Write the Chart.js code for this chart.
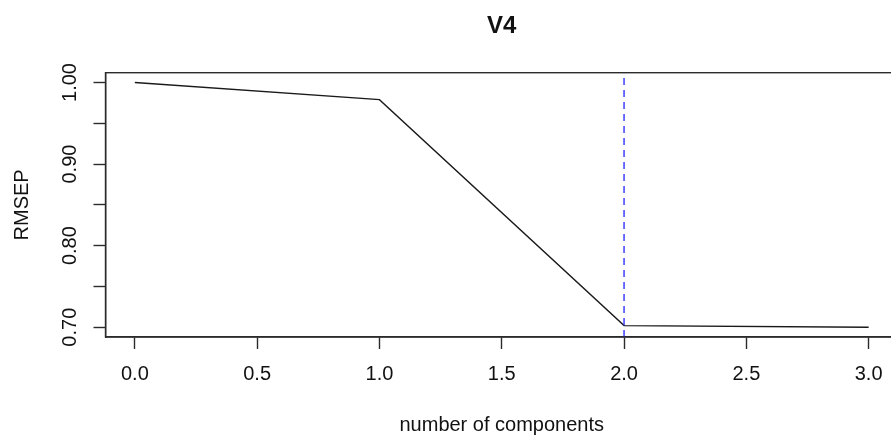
<!DOCTYPE html>
<html>
<head>
<meta charset="utf-8">
<title>V4</title>
<script src="https://cdn.jsdelivr.net/npm/chart.js@4.4.1/dist/chart.umd.min.js"></script>
<style>
  html, body { margin: 0; padding: 0; background: #fff; overflow: hidden; }
</style>
</head>
<body>
<canvas id="rmsepChart" width="900" height="439"></canvas>
<script>
// === Data ===
const components = [0, 1, 2, 3];
const rmsep = [1.000, 0.979, 0.702, 0.700];
const chosenComps = 2;

const xTicks = [0.0, 0.5, 1.0, 1.5, 2.0, 2.5, 3.0];
const xLabels = ["0.0", "0.5", "1.0", "1.5", "2.0", "2.5", "3.0"];
const yTicks = [0.70, 0.75, 0.80, 0.85, 0.90, 0.95, 1.00];
const yLabels = ["0.70", "", "0.80", "", "0.90", "", "1.00"];

const mainTitle = "V4";
const xTitle = "number of components";
const yTitle = "RMSEP";

const FONT = '"Liberation Sans", Arial, Helvetica, sans-serif';
const AXIS_COLOR = "#2b2b2b";

// axis limits padded by 4% like base R plots
function padRange(vals) {
  const lo = Math.min(...vals), hi = Math.max(...vals);
  const pad = (hi - lo) * 0.04;
  return [lo - pad, hi + pad];
}
const [xMin, xMax] = padRange(components);
const [yMin, yMax] = padRange(rmsep);

// box around the plot region + titles
const frameAndTitles = {
  id: "frameAndTitles",
  afterDraw(chart) {
    const { ctx, chartArea: a } = chart;
    ctx.save();
    ctx.strokeStyle = AXIS_COLOR;
    ctx.lineWidth = 1.4;
    ctx.strokeRect(a.left, a.top, a.right - a.left, a.bottom - a.top);

    const cx = (a.left + a.right) / 2;
    ctx.fillStyle = "#111";
    ctx.textAlign = "center";
    ctx.textBaseline = "alphabetic";
    ctx.font = "bold 24px " + FONT;
    ctx.fillText(mainTitle, cx, 33);
    ctx.font = "20px " + FONT;
    ctx.fillText(xTitle, cx, 431);
    ctx.translate(28, (a.top + a.bottom) / 2);
    ctx.rotate(-Math.PI / 2);
    ctx.fillText(yTitle, 0, 0);
    ctx.restore();
  }
};

const ctx = document.getElementById("rmsepChart").getContext("2d");
new Chart(ctx, {
  type: "line",
  data: {
    datasets: [
      {
        // selected number of components
        data: [{ x: chosenComps, y: yMin }, { x: chosenComps, y: yMax }],
        borderColor: "#2f2fff",
        borderWidth: 1.4,
        borderDash: [7, 5],
        pointRadius: 0
      },
      {
        data: components.map((c, i) => ({ x: c, y: rmsep[i] })),
        borderColor: "#1a1a1a",
        borderWidth: 1.4,
        tension: 0,
        pointRadius: 0
      }
    ]
  },
  options: {
    responsive: false,
    animation: false,
    layout: { padding: { left: 0, top: 72.7, right: 2, bottom: 0 } },
    plugins: {
      legend: { display: false },
      tooltip: { enabled: false },
      title: { display: false }
    },
    scales: {
      x: {
        type: "linear",
        min: xMin,
        max: xMax,
        afterBuildTicks: s => { s.ticks = xTicks.map(v => ({ value: v })); },
        afterFit: s => { s.height = 102; },
        ticks: {
          callback: (v, i) => xLabels[i],
          font: { family: FONT, size: 20 },
          color: "#111",
          padding: 13,
          maxRotation: 0,
          minRotation: 0,
          autoSkip: false
        },
        grid: {
          drawOnChartArea: false,
          tickLength: 12,
          color: AXIS_COLOR,
          tickWidth: 1.4
        },
        border: { display: true, color: AXIS_COLOR, width: 1.4 }
      },
      y: {
        type: "linear",
        min: yMin,
        max: yMax,
        afterBuildTicks: s => { s.ticks = yTicks.map(v => ({ value: v })); },
        afterFit: s => { s.width = 105.5; },
        ticks: {
          callback: (v, i) => yLabels[i],
          font: { family: FONT, size: 20 },
          color: "#111",
          padding: 3.5,
          minRotation: 90,
          maxRotation: 90,
          crossAlign: "center",
          autoSkip: false
        },
        grid: {
          drawOnChartArea: false,
          tickLength: 12,
          color: AXIS_COLOR,
          tickWidth: 1.4
        },
        border: { display: true, color: AXIS_COLOR, width: 1.4 }
      }
    }
  },
  plugins: [frameAndTitles]
});
</script>
</body>
</html>
